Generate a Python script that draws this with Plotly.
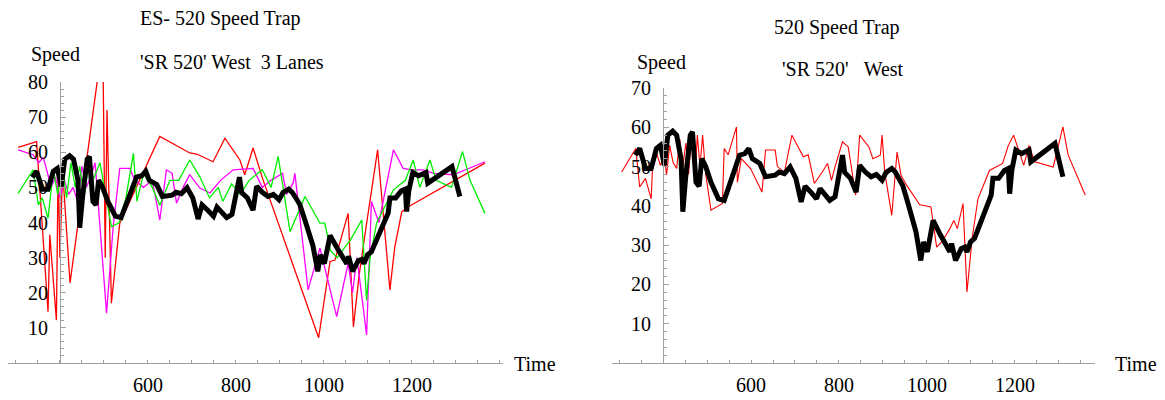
import plotly.graph_objects as go

# ---------------- data (time, speed) ----------------
black_t = [337, 347, 360, 373, 385, 394, 403, 411, 422, 431, 441, 445, 452, 462, 467, 475, 482, 488, 497, 509,
           526, 539, 561, 574, 586, 595, 603, 620, 633, 655, 664, 676, 689, 702, 714, 723, 736, 749, 757, 770,
           779, 791, 804, 808, 813, 826, 839, 847, 860, 873, 885, 898, 907, 920, 928, 945, 958, 975, 986, 992,
           1001, 1014, 1031, 1052, 1056, 1065, 1078, 1086, 1091, 1099, 1108, 1129, 1146, 1150, 1163, 1176, 1185, 1188, 1193, 1202,
           1215, 1232, 1236, 1291, 1300, 1309]
black_v = [52.9, 54.6, 49.5, 49.5, 54.6, 55.4, 50.3, 58, 59, 58, 52, 38.5, 48, 58, 58.8, 46, 45, 52, 50, 46,
           41.8, 41.4, 48.6, 52.9, 53.3, 54.6, 52, 50.8, 47.4, 47.8, 48.6, 48.2, 49.9, 47, 41, 45, 43.5, 41.8, 44.4, 42.7,
           41.4, 42.3, 50.3, 52.9, 48.5, 47, 43.5, 50.3, 48.6, 47.4, 48, 46.5, 48.5, 49.5, 48.6, 45.2, 40.2, 33.4, 26.1, 30.8,
           28.3, 36.3, 32.5, 28.3, 30.4, 26.1, 29.1, 29.5, 28.3, 30.8, 31.7, 37.6, 42.7, 47, 47, 49, 49.5, 43.1, 49.1, 54.2,
           53.3, 54.2, 51.2, 55.9, 51.6, 47.4]

red1_t = [305, 347, 373, 377, 392, 396, 400, 406, 423, 490, 498, 503, 507, 517, 536, 627, 695, 711, 748, 775,
          809, 820, 839, 862, 988, 1014, 1025, 1055, 1067, 1080, 1095, 1105, 1122, 1150, 1161, 1177, 1192, 1366]
red1_v = [61.4, 63, 14.6, 36.5, 12.2, 56, 30, 55, 22.8, 85, 85, 30, 72, 17, 39.8, 64.5, 59.8, 59.5, 57.3, 64,
          57.8, 53.6, 61.2, 52, 7.2, 28.9, 29.3, 42.6, 10.3, 25, 38, 46.4, 60.7, 20.8, 33, 43.1, 44.5, 56.9]

mag1_t = [305, 339, 352, 362, 370, 380, 390, 400, 410, 420, 430, 440, 450, 460, 470, 480, 506, 521, 536, 559,
          570, 590, 610, 627, 642, 655, 665, 680, 695, 718, 741, 765, 794, 839, 860, 880, 906, 915, 930, 934,
          964, 991, 1029, 1055, 1065, 1075, 1097, 1108, 1125, 1158, 1180, 1200, 1225, 1250, 1294, 1366]
mag1_v = [60.7, 59.3, 57, 58.5, 55, 50, 53, 47, 52, 48, 50, 46, 56, 50, 53, 57, 14.2, 38.8, 55.4, 55.4,
          52, 50, 52, 40.7, 55, 54, 45.5, 50, 53.6, 49.8, 48.4, 52, 55, 55.4, 50, 52, 54, 48, 51.2, 54,
          20.8, 32.7, 13.2, 28.4, 20, 30, 8, 46, 40, 60.7, 55.4, 55, 55, 54, 53.6, 57.3]

grn1_t = [305, 339, 351, 360, 373, 385, 395, 405, 415, 425, 435, 445, 455, 465, 475, 491, 517, 535, 550, 567,
          575, 590, 610, 627, 650, 670, 695, 718, 740, 760, 770, 790, 810, 830, 860, 880, 896, 923, 957, 991,
          1002, 1015, 1030, 1060, 1086, 1097, 1105, 1120, 1158, 1185, 1203, 1218, 1241, 1255, 1290, 1315, 1332, 1366]
grn1_v = [48.3, 55, 45, 47, 41.2, 55, 48, 56, 47, 57, 50, 56, 47, 57, 52, 57, 38.8, 40, 47, 59.7,
          46, 54, 50, 44.9, 52, 52, 57.8, 53, 47, 50, 46, 51, 48, 52, 55, 50, 58.8, 37.4, 47.4, 39.8,
          39.8, 32, 30, 35, 40.7, 17.9, 30, 40, 49.3, 52, 57.8, 50, 57.8, 52, 50, 60.2, 52, 42.6]

red2_t = [306, 330, 338, 347, 360, 373, 377, 385, 394, 403, 408, 415, 423, 431, 438, 445, 452, 458, 465, 472,
          478, 484, 490, 497, 509, 535, 539, 548, 567, 569, 578, 599, 625, 633, 655, 660, 676, 693, 719, 730,
          744, 762, 774, 783, 791, 808, 821, 838, 847, 868, 877, 894, 898, 904, 920, 932, 941, 954, 984, 988,
          1009, 1022, 1035, 1052, 1061, 1069, 1082, 1091, 1103, 1116, 1142, 1172, 1185, 1197, 1207, 1220, 1232, 1245, 1287, 1309,
          1321, 1360]
red2_v = [48.6, 53, 54.6, 44.8, 47, 41.8, 52, 53.5, 50.3, 52.9, 47.8, 55.4, 51, 49.5, 57, 50, 56, 48, 57.5, 46,
          58, 50, 58, 48, 38.9, 40.6, 54.6, 53, 60.1, 46, 52, 49.5, 43.5, 54.2, 54.2, 50, 48.6, 58, 52.5, 53,
          45.7, 48.6, 50.8, 46.5, 49.9, 56.3, 55, 42.7, 58, 55, 52, 52.9, 58, 48.6, 37.6, 53.7, 47.8, 45.2, 40.2, 40.2,
          39.7, 29.5, 31, 34.2, 36.3, 34.2, 40.6, 18.1, 32, 41.8, 49, 50.8, 55.4, 58, 54.6, 50.3, 55.4, 51.2, 49.9, 60.1,
          52.9, 42.7]

x_major = [600, 800, 1000, 1200]
left_y_ticks = [10, 20, 30, 40, 50, 60, 70, 80]
right_y_ticks = [10, 20, 30, 40, 50, 60, 70]

# ---------------- layout constants ----------------
W, H = 1165, 400
ORIGIN_T = 400
left_xdom = [8 / W, 503 / W]
right_xdom = [612 / W, 1095 / W]
left_xrange = [282, 1407]
right_xrange = [284, 1382]
left_ydom = [37 / H, 318 / H]
right_ydom = [37 / H, 312 / H]

FONT = "Liberation Serif, Times New Roman, serif"
AX = "#a0a0a0"


def pos(dom, rng, t):
    return dom[0] + (t - rng[0]) / (rng[1] - rng[0]) * (dom[1] - dom[0])


fig = go.Figure()

def line(t, v, color, width, xa, ya):
    fig.add_trace(go.Scatter(x=t, y=v, mode="lines", xaxis=xa, yaxis=ya,
                             line=dict(color=color, width=width), hoverinfo="skip",
                             showlegend=False))

line(red1_t, red1_v, "#ff0000", 1.3, "x", "y")
line(mag1_t, mag1_v, "#ff00ff", 1.3, "x", "y")
line(grn1_t, grn1_v, "#00ee00", 1.3, "x", "y")
line(black_t, black_v, "#000000", 5, "x", "y")

line(red2_t, red2_v, "#ff0000", 1.1, "x2", "y2")
line(black_t, black_v, "#000000", 5, "x2", "y2")

tickfont = dict(family=FONT, size=20, color="#000")

def xaxis(dom, rng, ya):
    return dict(domain=dom, range=rng, anchor=ya, showgrid=False, zeroline=False,
                automargin=False,
                showline=True, linecolor=AX, linewidth=1,
                tickmode="array", tickvals=x_major, ticks="inside", ticklen=3,
                tickcolor=AX, tickfont=tickfont, ticklabelstandoff=4,
                minor=dict(tickmode="linear", tick0=0, dtick=50, ticks="inside",
                           ticklen=3, tickcolor=AX, showgrid=False))

def yaxis(dom, rng, ticks, xdom, xrng):
    return dict(domain=dom, range=rng, anchor="free", position=pos(xdom, xrng, ORIGIN_T),
                automargin=False,
                showgrid=False, zeroline=False, showline=True, linecolor=AX, linewidth=1,
                tickmode="array", tickvals=ticks, ticks="inside", ticklen=5,
                tickcolor=AX, tickfont=tickfont, ticklabelstandoff=8,
                minor=dict(tickmode="linear", tick0=0, dtick=2, ticks="inside",
                           ticklen=3, tickcolor=AX, showgrid=False))

annos = []
def text(s, x, y, xanchor="left"):
    annos.append(dict(text=s, x=x / W, y=1 - y / H, xref="paper", yref="paper",
                      xanchor=xanchor, yanchor="middle", showarrow=False,
                      font=dict(family=FONT, size=20, color="#000")))

NB = "\u00a0"
text("ES- 520 Speed Trap", 138, 18)
text("'SR 520' West" + NB + NB + "3 Lanes", 138, 62)
text("Speed", 29, 55)
text("Time", 512, 364)
text("520 Speed Trap", 772, 27)
text("'SR 520'" + NB + NB + NB + "West", 780, 69)
text("Speed", 635, 62)
text("Time", 1113, 364)

fig.update_layout(
    width=W, height=H, margin=dict(l=0, r=0, t=0, b=0, autoexpand=False),
    paper_bgcolor="white", plot_bgcolor="white",
    xaxis=xaxis(left_xdom, left_xrange, "y"),
    yaxis=yaxis(left_ydom, [0, 80], left_y_ticks, left_xdom, left_xrange),
    xaxis2=xaxis(right_xdom, right_xrange, "y2"),
    yaxis2=yaxis(right_ydom, [0, 70], right_y_ticks, right_xdom, right_xrange),
    annotations=annos,
)

page_fix = (
    "document.documentElement.style.margin='0';"
    "document.documentElement.style.overflow='hidden';"
    "document.body.style.margin='0';"
    "document.body.style.overflow='hidden';"
    "var gd=document.getElementsByClassName('plotly-graph-div')[0];"
    "gd.style.position='fixed';gd.style.top='0';gd.style.left='0';"
)
fig.write_html("out.html", config={"displayModeBar": False}, post_script=page_fix)
